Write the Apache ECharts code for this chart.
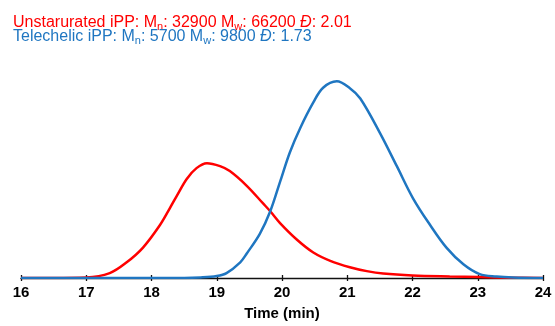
<!DOCTYPE html>
<html>
<head>
<meta charset="utf-8">
<script src="https://cdn.jsdelivr.net/npm/echarts@6/dist/echarts.min.js"></script>
<style>
  html, body { margin: 0; padding: 0; background: #fff; }
  #chart { width: 555px; height: 326px; }
</style>
</head>
<body>
<div id="chart"></div>
<script>
// GPC traces (time in min, detector signal in arbitrary units)
var timeRed = [16, 16.5, 17, 17.36, 17.62, 17.87, 18.13, 18.28, 18.39, 18.54, 18.69, 18.85, 19.05, 19.2, 19.46, 19.71, 19.82, 19.97,
  20.23, 20.48, 20.74, 21.04, 21.3, 21.55, 22, 22.57, 23.03, 23.5, 24]
var signalRed = [0, 0, 0.5, 5, 16, 31, 54, 71, 84, 101, 112, 117, 114, 109, 94, 76, 68, 56,
  39, 26, 17.5, 11, 7, 4.5, 2.5, 1.5, 1, 0.3, 0]

var timeBlue = [16, 18, 18.5, 18.75, 19, 19.15, 19.36, 19.46, 19.66, 19.82, 19.97, 20.12, 20.28, 20.48, 20.63, 20.84,
  21.04, 21.2, 21.5, 21.76, 22.01, 22.27, 22.52, 22.78, 23.03, 23.29, 23.54, 24]
var signalBlue = [0, 0, 0, 0.5, 2, 5, 16, 25, 45, 68, 98, 128, 153, 179, 194, 200.5,
  193.5, 183, 148, 114, 81, 54, 31, 14, 4, 1.5, 0.5, 0]

var xTicks = [16, 17, 18, 19, 20, 21, 22, 23, 24]

var redColor = '#ff0000'
var blueColor = '#1f76c1'
var fontFam = '"Liberation Sans", Arial, Helvetica, sans-serif'

function pairs(xs, ys) {
  return xs.map(function (x, i) { return [x, ys[i]] })
}

function richStyles(color) {
  return {
    r: { color: color, fontSize: 16, fontWeight: 'normal', fontFamily: fontFam, lineHeight: 18 },
    s: { color: color, fontSize: 11, fontWeight: 'normal', fontFamily: fontFam, lineHeight: 18, padding: [8, 0, 0, 0] },
    i: { color: color, fontSize: 16, fontWeight: 'normal', fontFamily: fontFam, fontStyle: 'italic', lineHeight: 18 }
  }
}

var chart = echarts.init(document.getElementById('chart'), null, { renderer: 'canvas' })

chart.setOption({
  animation: false,
  title: [
    {
      left: 13, top: 14, padding: 0,
      text: '{r|Unstarurated iPP: M}{s|n}{r|: 32900 M}{s|w}{r|: 66200 }{i|Đ}{r|: 2.01}',
      textStyle: { fontWeight: 'normal', rich: richStyles(redColor) }
    },
    {
      left: 13, top: 28, padding: 0,
      text: '{r|Telechelic iPP: M}{s|n}{r|: 5700 M}{s|w}{r|: 9800 }{i|Đ}{r|: 1.73}',
      textStyle: { fontWeight: 'normal', rich: richStyles(blueColor) }
    }
  ],
  grid: { left: 21, right: 12, top: 72, bottom: 44 },
  xAxis: [
    {
      type: 'value', min: 16, max: 24, interval: 1,
      name: 'Time (min)', nameLocation: 'middle', nameGap: 28,
      nameTextStyle: { color: '#000', fontSize: 15, fontWeight: 'bold', fontFamily: fontFam },
      axisLine: { show: true, lineStyle: { color: '#111', width: 1.3 } },
      axisTick: { show: true, length: 3, lineStyle: { color: '#111', width: 1.3 } },
      axisLabel: {
        margin: 7, color: '#000', fontSize: 15, fontWeight: 'bold', fontFamily: fontFam,
        customValues: xTicks
      },
      splitLine: { show: false }
    },
    {
      type: 'value', min: 16, max: 24, interval: 1, position: 'bottom',
      axisLine: { show: false },
      axisTick: { show: true, inside: true, length: 3, lineStyle: { color: '#111', width: 1.3 } },
      axisLabel: { show: false },
      splitLine: { show: false }
    }
  ],
  yAxis: {
    type: 'value', min: 0, max: 210,
    show: false
  },
  series: [
    {
      type: 'line', name: 'Unstarurated iPP',
      data: pairs(timeRed, signalRed),
      smooth: 0.35,
      showSymbol: false,
      lineStyle: { color: redColor, width: 2.5 },
      itemStyle: { color: redColor },
      z: 3
    },
    {
      type: 'line', name: 'Telechelic iPP',
      data: pairs(timeBlue, signalBlue),
      smooth: 0.35,
      showSymbol: false,
      lineStyle: { color: blueColor, width: 2.5 },
      itemStyle: { color: blueColor },
      z: 4
    }
  ]
})

window.addEventListener('resize', function () { chart.resize() })
</script>
</body>
</html>
